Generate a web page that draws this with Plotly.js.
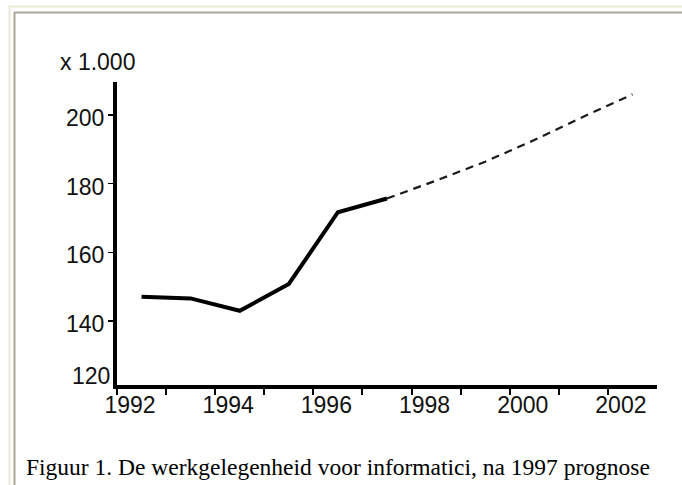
<!DOCTYPE html>
<html><head><meta charset="utf-8">
<script src="https://cdn.plot.ly/plotly-3.0.1.min.js"></script>
<style>html,body{margin:0;padding:0;background:#fff}#chart{width:682px;height:485px}</style>
</head><body><div id="chart"></div>
<script>
// ---- data ----
const actualYears = [1992.5, 1993.5, 1994.5, 1995.5, 1996.5, 1997.5];
const actualJobs = [147.1, 146.6, 143.0, 150.8, 171.7, 175.7];
const forecastYears = [1997.5, 1998.5, 1999.5, 2000.5, 2001.5, 2002.5];
const forecastJobs = [175.7, 180.9, 186.4, 192.7, 199.5, 206.0];
const xTickYears = [1992, 1993, 1994, 1995, 1996, 1997, 1998, 1999, 2000, 2001, 2002];
const xTickLabels = ['1992', '', '1994', '', '1996', '', '1998', '', '2000', '', '2002'];
const yTickValues = [140, 160, 180, 200];
const yTickLabels = ['140', '160', '180', '200'];
const yBottomLabel = '120';
const unitLabel = 'x 1.000';
const captionText = 'Figuur 1. De werkgelegenheid voor informatici, na 1997 prognose';

// ---- layout geometry ----
const W = 682, H = 485;
const M = {l: 117, r: 25, t: 82, b: 100};
const PW = W - M.l - M.r, PH = H - M.t - M.b;
const px = x => (x - M.l) / PW;
const py = y => (H - M.b - y) / PH;
const sans = '"Liberation Sans", Arial, Helvetica, sans-serif';
const serif = '"Liberation Serif", "Times New Roman", serif';
const FS = 23;

const traces = [
  {x: forecastYears, y: forecastJobs, mode: 'lines', type: 'scatter',
   line: {color: '#1a1a1a', width: 2.2, dash: '8px,6px'}, hoverinfo: 'skip'},
  {x: actualYears, y: actualJobs, mode: 'lines', type: 'scatter',
   line: {color: '#000', width: 4}, hoverinfo: 'skip'}
];

const frame = (x0, y0, x1, y1, c) => ({type: 'line', xref: 'paper', yref: 'paper',
  x0: px(x0), y0: py(y0), x1: px(x1), y1: py(y1), line: {color: c, width: 2}});

const layout = {
  width: W, height: H, margin: M, showlegend: false,
  paper_bgcolor: '#fff', plot_bgcolor: '#fff',
  font: {family: sans, size: FS, color: '#111'},
  xaxis: {range: [1992, 2003], showgrid: false, zeroline: false,
    showline: true, linecolor: '#000', linewidth: 4,
    tickmode: 'array', tickvals: xTickYears, ticktext: xTickLabels,
    ticks: 'outside', ticklen: 6, tickwidth: 2, tickcolor: '#000',
    ticklabelshift: 13, ticklabelstandoff: -10,
    tickfont: {family: sans, size: FS, color: '#111'}},
  yaxis: {range: [121.4, 209.6], showgrid: false, zeroline: false,
    showline: true, linecolor: '#000', linewidth: 4,
    tickmode: 'array', tickvals: yTickValues, ticktext: yTickLabels,
    ticks: 'outside', ticklen: 5, tickwidth: 1.5, tickcolor: '#000',
    ticklabelshift: 3, ticklabelstandoff: -1,
    tickfont: {family: sans, size: FS, color: '#111'}},
  annotations: [
    {text: unitLabel, xref: 'paper', yref: 'paper', x: px(97), y: py(62),
     xanchor: 'center', yanchor: 'middle', showarrow: false,
     font: {family: sans, size: FS, color: '#111'}},
    {text: yBottomLabel, xref: 'paper', yref: 'y', x: 0, y: 121.4,
     xanchor: 'right', yanchor: 'middle', xshift: -5, yshift: 9, showarrow: false,
     font: {family: sans, size: FS, color: '#111'}},
    {text: captionText, xref: 'paper', yref: 'paper', x: px(24), y: py(467),
     xanchor: 'left', yanchor: 'middle', showarrow: false,
     font: {family: serif, size: 23.5, color: '#000'}}
  ],
  shapes: [
    frame(9, 6.5, 682, 6.5, '#ece9d8'),
    frame(9.5, 6, 9.5, 485, '#ece9d8'),
    frame(14, 12.5, 682, 12.5, '#aca899'),
    frame(14.5, 12, 14.5, 485, '#aca899')
  ]
};

Plotly.newPlot('chart', traces, layout, {staticPlot: true, displayModeBar: false});
</script></body></html>
